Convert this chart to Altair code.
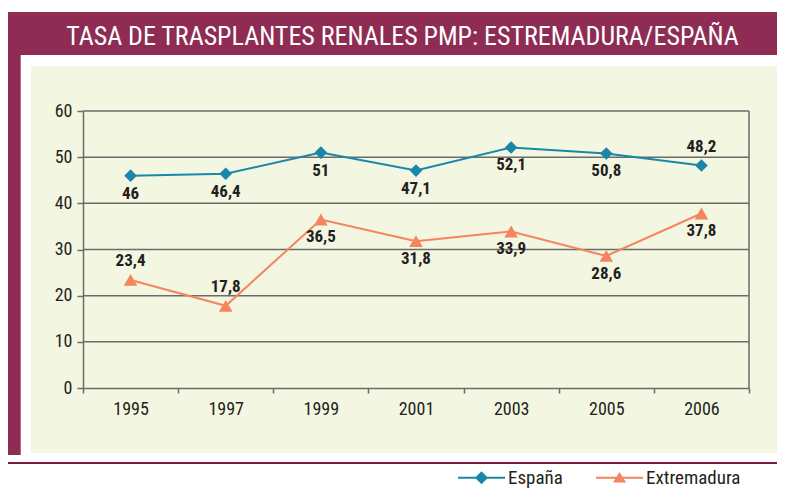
import altair as alt
import pandas as pd

# ---- data ----
YEARS = ["1995", "1997", "1999", "2001", "2003", "2005", "2006"]
ESPANA = [46, 46.4, 51, 47.1, 52.1, 50.8, 48.2]
EXTREMADURA = [23.4, 17.8, 36.5, 31.8, 33.9, 28.6, 37.8]
ESPANA_POS = ["below", "below", "below", "below", "below", "below", "above"]
EXTREMADURA_POS = ["above", "above", "below", "below", "below", "below", "below"]
SERIES = ["España", "Extremadura"]
Y_TICKS = [0, 10, 20, 30, 40, 50, 60]
TITLE = "TASA DE TRASPLANTES RENALES PMP: ESTREMADURA/ESPAÑA"

# ---- styles ----
MAROON = "#8E2C53"
DARK_MAROON = "#7A1A40"
PANEL = "#F3F6E1"
BLUE = "#1A87AA"
ORANGE = "#F5845F"
GRID = "#6B6B6B"
TEXT = "#231F20"
FONT = "Liberation Sans Narrow, Roboto Condensed, DejaVu Sans Condensed, sans-serif"

W, H = 666, 277

def fmt(v):
    return f"{v:g}".replace(".", ",")

rows = []
for s, vals, pos in [(SERIES[0], ESPANA, ESPANA_POS), (SERIES[1], EXTREMADURA, EXTREMADURA_POS)]:
    for y, v, p in zip(YEARS, vals, pos):
        rows.append({"year": y, "serie": s, "valor": v, "etiqueta": fmt(v), "pos": p})
df = pd.DataFrame(rows)
grid_df = pd.DataFrame({"g": Y_TICKS[1:]})
dummy = pd.DataFrame({"d": [0]})

x_enc = alt.X(
    "year:N",
    sort=YEARS,
    scale=alt.Scale(type="band", domain=YEARS, paddingInner=0, paddingOuter=0),
    axis=alt.Axis(
        title=None, labelAngle=0, tickBand="extent", tickSize=5, labelPadding=7,
        domainColor=GRID, domainWidth=1.5, tickColor=GRID, tickWidth=1.5,
        labelFont=FONT, labelFontSize=18, labelColor=TEXT, zindex=1, grid=False,
    ),
)
y_enc = alt.Y(
    "valor:Q",
    scale=alt.Scale(domain=[0, 60], nice=False),
    axis=alt.Axis(
        title=None, values=Y_TICKS, tickSize=6, labelPadding=5,
        domainColor=GRID, domainWidth=1.5, tickColor=GRID, tickWidth=1.5,
        labelFont=FONT, labelFontSize=18, labelColor=TEXT, zindex=1, grid=False,
    ),
)

# ---- decorations ----
dec = alt.Chart(dummy)
band = dec.mark_rect(color=MAROON).encode(
    x=alt.value(-75), x2=alt.value(710), y=alt.value(-99), y2=alt.value(-56))
strip = dec.mark_rect(color=MAROON).encode(
    x=alt.value(-75), x2=alt.value(-62.3), y=alt.value(-99), y2=alt.value(344))
panel = dec.mark_rect(color=PANEL).encode(
    x=alt.value(-52), x2=alt.value(694), y=alt.value(-45), y2=alt.value(342))
bottom = dec.mark_rule(color=DARK_MAROON, strokeWidth=2).encode(
    x=alt.value(-76), x2=alt.value(710), y=alt.value(352))
right_border = dec.mark_rule(color=GRID, strokeWidth=1.5).encode(
    x=alt.value(W), y=alt.value(0), y2=alt.value(H))
title = dec.mark_text(color="white", font=FONT, fontSize=26, align="center",
                      baseline="alphabetic").encode(
    x=alt.value(319.5), y=alt.value(-66), text=alt.value(TITLE))

# ---- gridlines ----
grid = alt.Chart(grid_df).mark_rule(color=GRID, strokeWidth=1.5).encode(
    y=alt.Y("g:Q", scale=alt.Scale(domain=[0, 60], nice=False)))

# ---- data ----
base = alt.Chart(df).encode(x=x_enc, y=y_enc)
line_esp = base.transform_filter(alt.datum.serie == SERIES[0]).mark_line(
    color=BLUE, strokeWidth=2,
    point=alt.OverlayMarkDef(shape="diamond", filled=True, size=160, color=BLUE, opacity=1))
line_ext = base.transform_filter(alt.datum.serie == SERIES[1]).mark_line(
    color=ORANGE, strokeWidth=2,
    point=alt.OverlayMarkDef(shape="triangle-up", filled=True, size=185, color=ORANGE, opacity=1))

lab_below = base.transform_filter(alt.datum.pos == "below").mark_text(
    font=FONT, fontSize=17, fontWeight="bold", color=TEXT, align="center",
    baseline="alphabetic", dy=23).encode(text="etiqueta:N")
lab_above = base.transform_filter(alt.datum.pos == "above").mark_text(
    font=FONT, fontSize=17, fontWeight="bold", color=TEXT, align="center",
    baseline="alphabetic", dy=-13.5).encode(text="etiqueta:N")

# ---- legend (symbols built as line+marker paths) ----
P_DIAMOND = "M-1,-0.045H1V0.045H-1Z M0,-0.28L0.28,0L0,0.28L-0.28,0Z"
P_TRIANGLE = "M-1,-0.045H1V0.045H-1Z M0,-0.25L0.28,0.2L-0.28,0.2Z"
leg = alt.Legend(
    orient="none", legendX=375, legendY=343, direction="horizontal", title=None,
    labelFont=FONT, labelFontSize=19, labelColor=TEXT, labelOffset=3,
    columnPadding=33, symbolSize=2209, symbolStrokeWidth=0, symbolOpacity=1,
)
legend_layer = alt.Chart(df).transform_filter("false").mark_point(
    filled=True, opacity=1, size=2209).encode(
    color=alt.Color("serie:N", scale=alt.Scale(domain=SERIES, range=[BLUE, ORANGE]), legend=leg),
    shape=alt.Shape("serie:N", scale=alt.Scale(domain=SERIES, range=[P_DIAMOND, P_TRIANGLE]), legend=leg),
)

chart = alt.layer(
    band, strip, panel, bottom, title, grid, right_border,
    line_ext, line_esp, lab_below, lab_above, legend_layer,
).properties(
    width=W, height=H,
    autosize=alt.AutoSizeParams(type="none"),
    padding={"left": 75, "top": 103, "right": 28, "bottom": 103},
).configure_view(stroke=None).configure(background="white")

chart.save("out.html", embed_options={"renderer": "svg", "actions": False})
